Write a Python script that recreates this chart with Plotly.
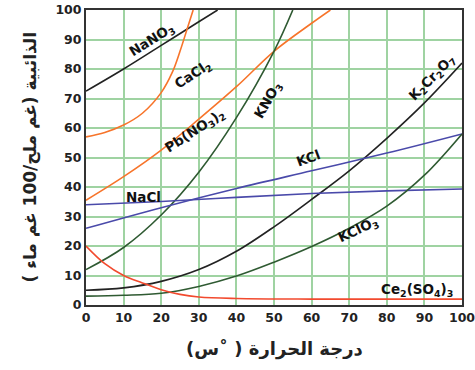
import plotly.graph_objects as go

# ---- data ----
nano3_x = [0, 10, 20, 30, 35]
nano3_y = [72.5, 80, 88, 96, 100]

cacl2_x = [0, 5, 10, 15, 20, 23, 25, 27, 28.5]
cacl2_y = [57, 58.5, 61, 65, 72, 79, 86, 94, 100]

pbno32_x = [0, 10, 20, 30, 40, 50, 60, 65]
pbno32_y = [35.5, 43.5, 52.5, 63, 74, 86, 95.5, 100]

kno3_x = [0, 10, 20, 30, 40, 50, 55]
kno3_y = [12, 19.5, 30.5, 45, 63.5, 86, 100]

k2cr2o7_x = [0, 10, 20, 30, 40, 50, 60, 70, 80, 90, 100]
k2cr2o7_y = [5, 5.8, 8, 12, 18.2, 26.5, 35.8, 45.5, 56.5, 68.5, 82]

kcl_x = [0, 20, 40, 60, 80, 100]
kcl_y = [26, 33, 39.5, 45.5, 51.5, 58]

nacl_x = [0, 20, 40, 60, 80, 100]
nacl_y = [34, 35.1, 36.5, 37.8, 38.7, 39.3]

kclo3_x = [0, 10, 20, 30, 40, 50, 60, 70, 80, 90, 100]
kclo3_y = [3, 3.3, 4, 6.3, 9.8, 14.5, 19.8, 26, 33.5, 44, 58]

ce2so43_x = [0, 5, 10, 15, 20, 25, 30, 40, 60, 80, 100]
ce2so43_y = [20, 14, 10, 7.5, 5.2, 3.6, 2.7, 2.2, 2, 2, 2]

ticks = [0, 10, 20, 30, 40, 50, 60, 70, 80, 90, 100]

labels = ["NaNO<sub>3</sub>", "CaCl<sub>2</sub>", "Pb(NO<sub>3</sub>)<sub>2</sub>", "KNO<sub>3</sub>",
          "K<sub>2</sub>Cr<sub>2</sub>O<sub>7</sub>", "KCl", "NaCl", "KClO<sub>3</sub>",
          "Ce<sub>2</sub>(SO<sub>4</sub>)<sub>3</sub>"]
label_x = [17.6, 28.4, 29, 48.5, 92, 59, 15.4, 72.4, 88]
label_y = [89.8, 78, 59, 69.5, 77, 49.8, 36.6, 25.4, 5.1]
label_angle = [-32, -33, -33, -60, -45, -20, 0, -25, 0]

x_title = "درجة الحرارة ( ˚س)"
y_title = "الذائبية (غم ملح/100 غم ماء )"

BLACK = "#222222"
ORANGE = "#f7742a"
GREEN = "#2f5a32"
BLUE = "#4a4aaa"
RED = "#f24a2e"

series = [
    (nano3_x, nano3_y, BLACK),
    (cacl2_x, cacl2_y, ORANGE),
    (pbno32_x, pbno32_y, ORANGE),
    (kno3_x, kno3_y, GREEN),
    (k2cr2o7_x, k2cr2o7_y, BLACK),
    (kcl_x, kcl_y, BLUE),
    (nacl_x, nacl_y, BLUE),
    (kclo3_x, kclo3_y, GREEN),
    (ce2so43_x, ce2so43_y, RED),
]

fig = go.Figure()
for xs, ys, col in series:
    fig.add_trace(go.Scatter(x=xs, y=ys, mode="lines", line=dict(color=col, width=1.6, shape="spline"),
                             hoverinfo="skip", showlegend=False, cliponaxis=True))

for t, x, y, a in zip(labels, label_x, label_y, label_angle):
    fig.add_annotation(x=x, y=y, text="<b>" + t + "</b>", showarrow=False, textangle=a,
                       font=dict(family="DejaVu Sans", size=13.5, color="#111111"))

fig.add_annotation(xref="paper", yref="paper", x=0, y=0.5, xshift=-56, text="<b>" + y_title + "</b>",
                   textangle=-90, showarrow=False, xanchor="center", yanchor="middle",
                   font=dict(family="DejaVu Sans", size=17, color="#222222"))
fig.add_annotation(xref="paper", yref="paper", x=0.5, y=0, yshift=-44, text="<b>" + x_title + "</b>",
                   showarrow=False, xanchor="center", yanchor="middle",
                   font=dict(family="DejaVu Sans", size=18, color="#222222"))

axis_common = dict(
    range=[0, 100], tickvals=ticks, ticktext=[str(t) for t in ticks],
    showgrid=True, gridcolor="#9fd3a2", gridwidth=1.5,
    showline=True, linecolor="#333333", linewidth=2, mirror=True,
    zeroline=False, ticks="", automargin=False, ticklabeloverflow="allow",
    tickfont=dict(family="DejaVu Sans", size=12.5, color="#222222", weight="bold"),
)

fig.update_xaxes(**axis_common)
fig.update_yaxes(**axis_common)

fig.update_layout(
    width=475, height=370,
    margin=dict(l=86, r=13, t=10, b=65),
    paper_bgcolor="white", plot_bgcolor="white",
    showlegend=False,
)

# remove the browser's default body margin so the figure sits at the page origin
fig.write_html("out.html", config={"displayModeBar": False},
               post_script="document.body.style.margin='0';")
